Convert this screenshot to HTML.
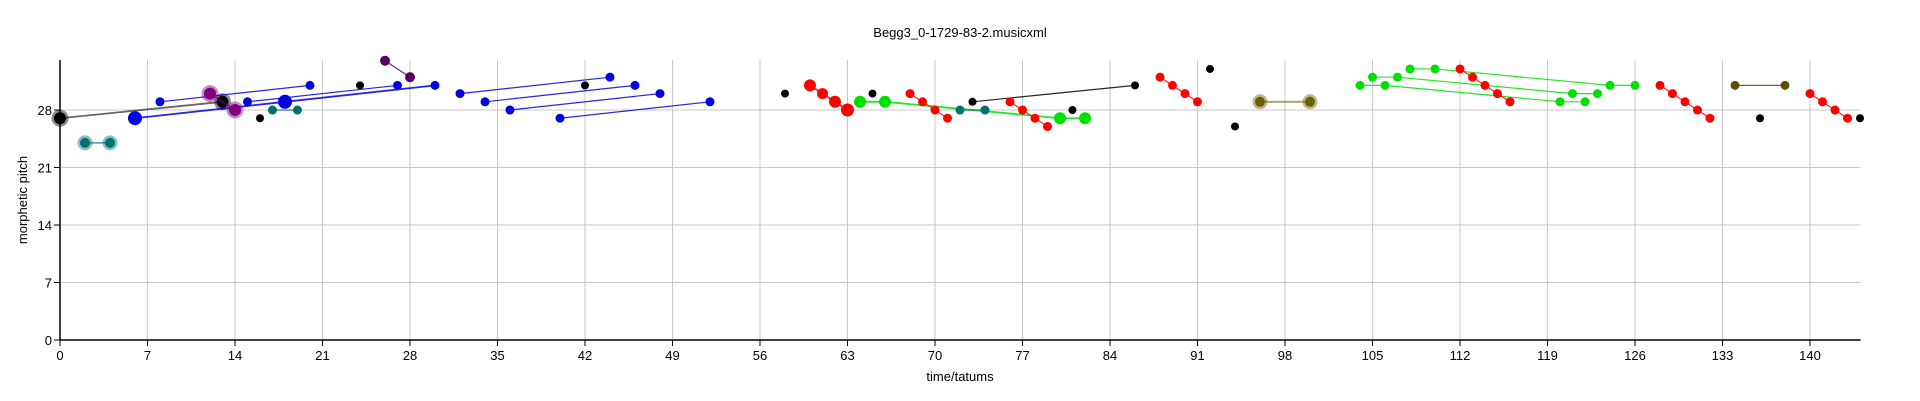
<!DOCTYPE html>
<html><head><meta charset="utf-8"><style>
html,body{margin:0;padding:0;background:#fff}
svg{display:block;font-family:"Liberation Sans",Arial,sans-serif}
</style></head><body>
<svg id="chart" width="1920" height="401" viewBox="0 0 1920 401" xmlns="http://www.w3.org/2000/svg">
<text x="960" y="37" text-anchor="middle" font-size="13">Begg3_0-1729-83-2.musicxml</text>
<g id="grid"></g>
<g id="axes"></g>
<g id="marks"></g>
<text x="960" y="381" text-anchor="middle" font-size="13">time/tatums</text>
<text transform="translate(27,200) rotate(-90)" text-anchor="middle" font-size="13">morphetic pitch</text>
</svg>
<script>
const xTicks=[0,7,14,21,28,35,42,49,56,63,70,77,84,91,98,105,112,119,126,133,140];
const yTicks=[0,7,14,21,28];
// groups: colour, radius, halo, x values, y values
const groupColors=["#007070","#000","#0000e0","#0000e0","#0000e0","#800080","#000","#007070","#5a005a","#000","#0000e0","#0000e0","#0000e0","#0000e0","#000","#000","#ff0000","#00e000","#000","#ff0000","#007070","#000","#ff0000","#000","#ff0000","#000","#000","#6a6000","#00e000","#00e000","#00e000","#ff0000","#ff0000","#5a5000","#000","#ff0000","#000"];
const groupRadius=[6,7,7,4.5,4.5,7,4,4.5,5,4,4.5,4.5,4.5,4.5,4,4,6,6,4,4.5,4.5,4,4.5,4,4.5,4,4,6,4.5,4.5,4.5,4.5,4.5,4.5,4,4.5,4];
const groupHalo=[1,1,0,0,0,1,0,0,0,0,0,0,0,0,0,0,0,0,0,0,0,0,0,0,0,0,0,1,0,0,0,0,0,0,0,0,0];
const groupX=[[2,4],[0,13],[6,18,30],[8,20],[15,27],[12,14],[16],[17,19],[26,28],[24],[32,44],[34,46],[36,48],[40,52],[42],[58],[60,61,62,63],[64,66,80,82],[65],[68,69,70,71],[72,74],[73,86],[76,77,78,79],[81],[88,89,90,91],[92],[94],[96,100],[104,106,120,122],[105,107,121,123],[108,110,124,126],[112,113,114,115,116],[128,129,130,131,132],[134,138],[136],[140,141,142,143],[144]];
const groupY=[[24,24],[27,29],[27,29,31],[29,31],[29,31],[30,28],[27],[28,28],[34,32],[31],[30,32],[29,31],[28,30],[27,29],[31],[30],[31,30,29,28],[29,29,27,27],[30],[30,29,28,27],[28,28],[29,31],[29,28,27,26],[28],[32,31,30,29],[33],[26],[29,29],[31,31,29,29],[32,32,30,30],[33,33,31,31],[33,32,31,30,29],[31,30,29,28,27],[31,31],[27],[30,29,28,27],[27]];
const X0=60,X1=1860.5,XMAX=144.04,Y0=340,YT=60,YMAX=34.09;
const sx=v=>X0+v*(X1-X0)/XMAX, sy=v=>Y0-v*(Y0-YT)/YMAX;
const NS="http://www.w3.org/2000/svg";
function mk(tag,attrs,parent){const e=document.createElementNS(NS,tag);for(const k in attrs)e.setAttribute(k,attrs[k]);parent.appendChild(e);return e;}
const grid=document.getElementById('grid'),axes=document.getElementById('axes'),marks=document.getElementById('marks');
xTicks.forEach(t=>{
 const g=mk('line',{x1:sx(t),x2:sx(t),y1:YT,y2:Y0,stroke:'#c8c8c8','stroke-width':1},grid);
 
 
 const tk=mk('line',{x1:sx(t),x2:sx(t),y1:Y0,y2:Y0+6,stroke:'#000','stroke-width':1},axes);
 
 
 const lb=mk('text',{x:sx(t),y:Y0+20,'text-anchor':'middle','font-size':13},axes);
 lb.textContent=t;
 
 
});
yTicks.forEach(t=>{
 const g=mk('line',{x1:X0,x2:X1,y1:sy(t),y2:sy(t),stroke:'#c8c8c8','stroke-width':1},grid);
 
 
 const tk=mk('line',{x1:X0-6,x2:X0,y1:sy(t),y2:sy(t),stroke:'#000','stroke-width':1},axes);
 
 
 const lb=mk('text',{x:X0-8,y:sy(t)+5,'text-anchor':'end','font-size':13},axes);
 lb.textContent=t;
 
 
});
const xa=mk('line',{x1:X0,x2:X1,y1:Y0,y2:Y0,stroke:'#000','stroke-width':1.5},axes);


const ya=mk('line',{x1:X0,x2:X0,y1:YT,y2:Y0,stroke:'#000','stroke-width':1.5},axes);


groupX.forEach((xs,i)=>{
 const ys=groupY[i],c=groupColors[i],r=groupRadius[i];
 const g=mk('g',{},marks);
 
 
 if(xs.length>1){
  const pts=xs.map((x,j)=>sx(x)+','+sy(ys[j])).join(' ');
  const pl=mk('polyline',{points:pts,fill:'none',stroke:c,'stroke-width':r>=6?1.8:1.2,'stroke-opacity':groupHalo[i]?0.6:0.85},g);
  
  
 }
 xs.forEach((x,j)=>{
  let rr=r;
  if(i===16) rr=[6,5.5,6,6.5][j];
  if(i===2) rr=[7,7,4.5][j];
  if(groupHalo[i]){
   const h=mk('circle',{cx:sx(x),cy:sy(ys[j]),r:rr+1.5,fill:c,'fill-opacity':0.45},g);
   
   
  }
  const p=mk('circle',{cx:sx(x),cy:sy(ys[j]),r:groupHalo[i]?rr-1:rr,fill:c},g);
  
  
 });
});
</script>
</body></html>
